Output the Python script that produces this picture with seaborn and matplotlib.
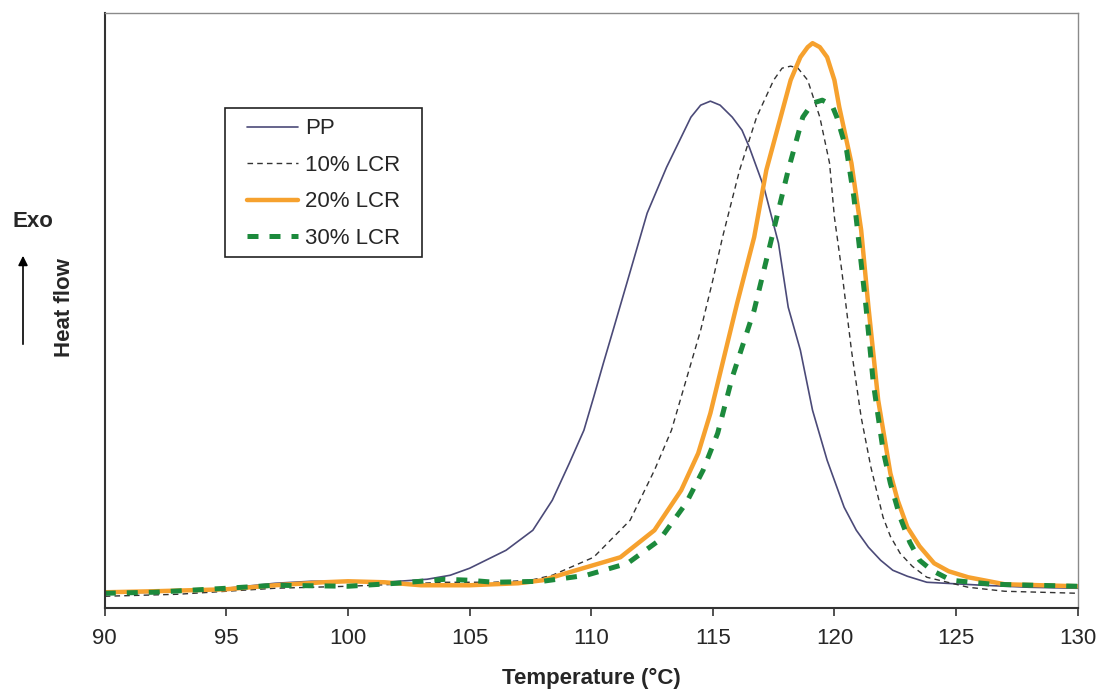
import matplotlib
matplotlib.use("Agg")
import matplotlib.pyplot as plt
from matplotlib.legend_handler import HandlerLine2D
from matplotlib.lines import Line2D
from matplotlib.patches import Rectangle
import seaborn as sns

# DSC cooling curves (heat flow, arbitrary units)
pp_t = [90, 92, 95, 97, 98.5, 100, 101.5, 103.25, 104.2, 105.0, 106.5, 107.6, 108.4, 109.1,
        109.7, 110.1, 110.5, 110.9, 111.5, 112.3, 113.1, 113.7, 114.1, 114.5, 114.9, 115.3,
        115.8, 116.2, 116.5, 117.1, 117.7, 118.1, 118.6, 119.1, 119.7, 120.4, 120.9, 121.4,
        121.9, 122.4, 123.0, 123.8, 126.1, 128, 130]
pp_v = [15, 16, 20, 25, 27, 27, 26, 29, 33, 40, 58, 78, 108, 145,
        178, 211, 245, 278, 328, 395, 441, 471, 491, 503, 507, 503,
        491, 478, 461, 421, 365, 301, 258, 198, 148, 101, 78, 61,
        48, 38, 32, 26, 23, 21, 20]

lcr10_t = [90, 93, 95, 97, 100, 102, 104, 106, 107.5, 108.4, 110.1, 111.6, 112.6, 113.3,
           113.9, 114.5, 115.0, 115.4, 116.1, 116.8, 117.5, 117.85, 118.2, 118.5, 118.9,
           119.4, 119.8, 120.0, 120.3, 120.7, 121.1, 121.5, 122.0, 122.3, 122.7, 123.2,
           123.8, 125.5, 127, 130]
lcr10_v = [12, 14, 17, 20, 22, 24, 26, 26, 28, 33, 51, 88, 138, 178,
           228, 278, 328, 371, 438, 491, 528, 540, 542, 540, 528,
           491, 445, 391, 338, 258, 191, 141, 91, 72, 55, 42,
           31, 21, 17, 15]

lcr20_t = [90, 92, 95, 97, 99, 100, 101.5, 103, 105, 107, 108, 109.1, 111.2, 112.6, 113.7,
           114.4, 114.9, 115.3, 116.0, 116.7, 117.2, 117.9, 118.2, 118.6, 118.9, 119.1,
           119.4, 119.7, 120.0, 120.2, 120.7, 121.1, 121.4, 121.8, 122.3, 122.6, 123.0,
           123.5, 124.1, 124.7, 125.5, 127, 130]
lcr20_v = [16, 17, 19, 23, 26, 27, 26, 23, 23, 25, 28, 36, 51, 78, 118,
           155, 195, 235, 305, 371, 438, 501, 528, 551, 561, 565,
           561, 551, 528, 501, 445, 378, 301, 208, 135, 108, 81,
           62, 45, 37, 31, 24, 22]

lcr30_t = [90, 92, 95, 97, 100, 102, 103, 104, 105, 106, 108, 109.8, 111.5, 112.8, 113.9,
           114.6, 115.2, 115.8, 116.7, 117.4, 118.1, 118.7, 119.1, 119.5, 119.9, 120.1,
           120.5, 120.8, 121.1, 121.3, 121.6, 122.0, 122.3, 122.7, 123.1, 123.5, 124.0,
           124.8, 126.5, 130]
lcr30_v = [15, 16, 20, 23, 22, 25, 27, 29, 28, 26, 27, 33, 45, 68, 105,
           138, 175, 231, 298, 368, 438, 491, 505, 508, 503, 491,
           458, 411, 345, 301, 225, 158, 125, 91, 66, 48, 38,
           28, 24, 22]

x_ticks = [90, 95, 100, 105, 110, 115, 120, 125, 130]

sns.set_style("white")
plt.rcParams["font.family"] = ["Liberation Sans", "DejaVu Sans"]

fig = plt.figure(figsize=(11.03, 6.92), dpi=100)
ax = fig.add_axes([0.095, 0.121, 0.882, 0.860])

sns.lineplot(x=pp_t, y=pp_v, ax=ax, color="#4b4a78", lw=1.2, label="PP")
sns.lineplot(x=lcr10_t, y=lcr10_v, ax=ax, color="#333333", lw=1.0,
             linestyle=(0, (4, 3)), label="10% LCR")
sns.lineplot(x=lcr20_t, y=lcr20_v, ax=ax, color="#f6a12e", lw=3.2, label="20% LCR")
sns.lineplot(x=lcr30_t, y=lcr30_v, ax=ax, color="#1c8a3c", lw=3.6,
             linestyle=(0, (2.2, 2.2)), label="30% LCR")

ax.set_xlim(90, 130)
ax.set_ylim(0, 595)
ax.set_xticks(x_ticks)
ax.set_xticklabels([str(t) for t in x_ticks], fontsize=16)
ax.set_yticks([])
ax.tick_params(axis="x", direction="out", length=6, width=1.2, color="#333333",
               bottom=True, pad=8)

for side in ["left", "bottom"]:
    ax.spines[side].set_color("#333333")
    ax.spines[side].set_linewidth(1.5)
for side in ["top", "right"]:
    ax.spines[side].set_color("#8a8a8a")
    ax.spines[side].set_linewidth(1.0)

ax.set_xlabel("Temperature (°C)", fontsize=16, fontweight="bold", labelpad=14)
ax.set_ylabel("")

# y-axis annotation: Exo / arrow / Heat flow
fig.text(33 / 1103, 1 - 222 / 692, "Exo", fontsize=16, fontweight="bold",
         ha="center", va="center")
fig.text(64 / 1103, 1 - 308 / 692, "Heat flow", fontsize=16, fontweight="bold",
         ha="center", va="center", rotation=90)
ax.annotate("", xy=(23 / 1103, 1 - 253 / 692), xytext=(23 / 1103, 1 - 347 / 692),
            xycoords="figure fraction",
            arrowprops=dict(arrowstyle="-|>", color="black", lw=1.2, mutation_scale=14))

# legend entries without frame, frame drawn as a box around them
leg = ax.legend(loc="upper left", bbox_to_anchor=(0.126, 0.840), borderaxespad=0,
                fontsize=16, handlelength=2.75, labelspacing=0.7, frameon=False,
                borderpad=0.45, handletextpad=0.3,
                handler_map={Line2D: HandlerLine2D(xpad=0.45)})
ax.add_patch(Rectangle((0.1233, 0.590), 0.2025, 0.250, transform=ax.transAxes,
                       fill=False, edgecolor="#222222", lw=1.2, zorder=5))

fig.savefig("out.png", dpi=100)
